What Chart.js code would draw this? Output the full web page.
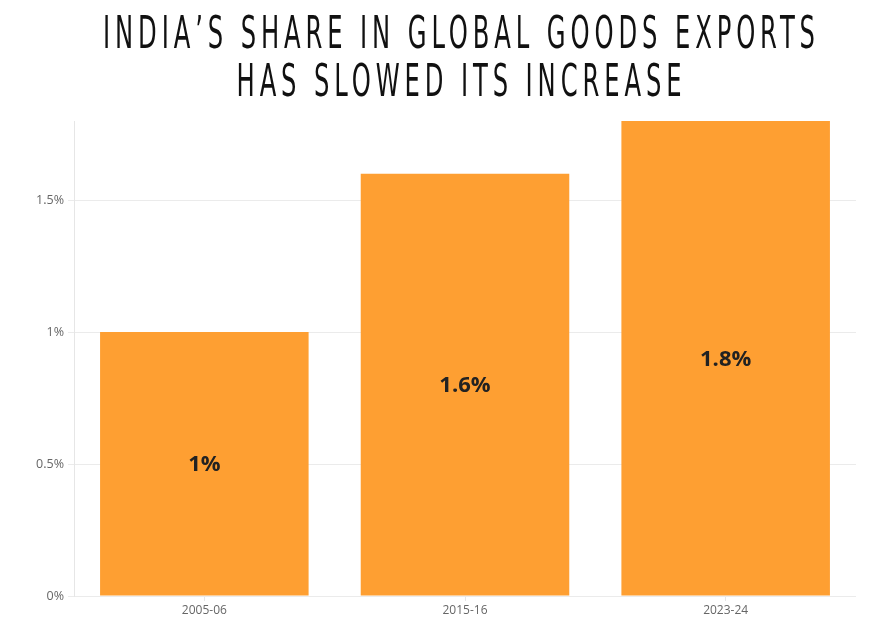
<!DOCTYPE html>
<html>
<head>
<meta charset="utf-8">
<script src="https://cdn.jsdelivr.net/npm/chart.js@4"></script>
<style>
  html, body { margin: 0; padding: 0; background: #fff; }
  #wrap { position: relative; width: 890px; height: 632px; overflow: hidden; }
  .tline {
    position: absolute; left: 0; white-space: nowrap;
    font-family: 'Liberation Sans Narrow', 'DejaVu Sans Condensed', sans-serif;
    font-size: 44px; line-height: 44px; color: #111; font-weight: normal;
    letter-spacing: 8px; transform-origin: 0 0; z-index: 2;
  }
  #t1 { top: 11px; }
  #t2 { top: 59px; }
  canvas { position: absolute; top: 0; left: 0; }
</style>
</head>
<body>
<div id="wrap">
  <div class="tline" id="t1">INDIA’S SHARE IN GLOBAL GOODS EXPORTS</div>
  <div class="tline" id="t2">HAS SLOWED ITS INCREASE</div>
  <canvas id="c" width="890" height="632"></canvas>
</div>
<script>
const categories = ['2005-06', '2015-16', '2023-24'];
const shareValues = [1.0, 1.6, 1.8];
const barLabels = ['1%', '1.6%', '1.8%'];
const yTickValues = [0, 0.5, 1, 1.5];
const yTickLabels = ['0%', '0.5%', '1%', '1.5%'];

// fit the condensed title lines
(function () {
  const ls = 8;
  const t1 = document.getElementById('t1');
  const t2 = document.getElementById('t2');
  const w1 = t1.getBoundingClientRect().width - ls;
  const w2 = t2.getBoundingClientRect().width - ls;
  const s = 712 / w1;
  [[t1, w1], [t2, w2]].forEach(([el, w]) => {
    const x = 459 - (w * s) / 2;
    el.style.transform = 'translateX(' + x + 'px) scaleX(' + s + ')';
  });
})();

const barLabelPlugin = {
  id: 'barLabels',
  afterDatasetsDraw(chart) {
    const ctx = chart.ctx;
    const meta = chart.getDatasetMeta(0);
    ctx.save();
    ctx.font = 'bold 22px "Open Sans", sans-serif';
    ctx.fillStyle = '#222';
    ctx.textAlign = 'center';
    ctx.textBaseline = 'middle';
    meta.data.forEach((bar, i) => {
      const cy = (bar.y + bar.base) / 2 + 1;
      ctx.fillText(barLabels[i], bar.x, cy);
    });
    ctx.restore();
  }
};

new Chart(document.getElementById('c'), {
  type: 'bar',
  data: {
    labels: categories,
    datasets: [{
      data: shareValues,
      backgroundColor: '#FE9F32',
      borderWidth: 0,
      barPercentage: 0.8,
      categoryPercentage: 1.0
    }]
  },
  options: {
    responsive: false,
    animation: false,
    layout: { padding: { top: 121, right: 34, left: 0, bottom: 0 } },
    plugins: { legend: { display: false }, tooltip: { enabled: false } },
    scales: {
      x: {
        grid: { display: true, drawOnChartArea: false, drawTicks: true, tickLength: 5, offset: false, color: '#e6e6e6' },
        border: { display: false },
        ticks: { color: '#666', font: { family: '"Open Sans", sans-serif', size: 12 }, padding: 2 },
        afterFit(s) { s.height = 36; }
      },
      y: {
        min: 0, max: 1.8,
        grid: { color: '#ebebeb', tickLength: 6 },
        border: { display: true, color: '#e6e6e6' },
        ticks: {
          stepSize: 0.5,
          color: '#666',
          font: { family: '"Open Sans", sans-serif', size: 12.5 },
          padding: 4,
          callback(v) {
            const idx = yTickValues.findIndex(t => Math.abs(t - v) < 1e-9);
            return idx >= 0 ? yTickLabels[idx] : null;
          }
        },
        afterBuildTicks(s) {
          s.ticks = yTickValues.map(v => ({ value: v }));
        },
        afterFit(s) { s.width = 74; }
      }
    }
  },
  plugins: [barLabelPlugin]
});
</script>
</body>
</html>
